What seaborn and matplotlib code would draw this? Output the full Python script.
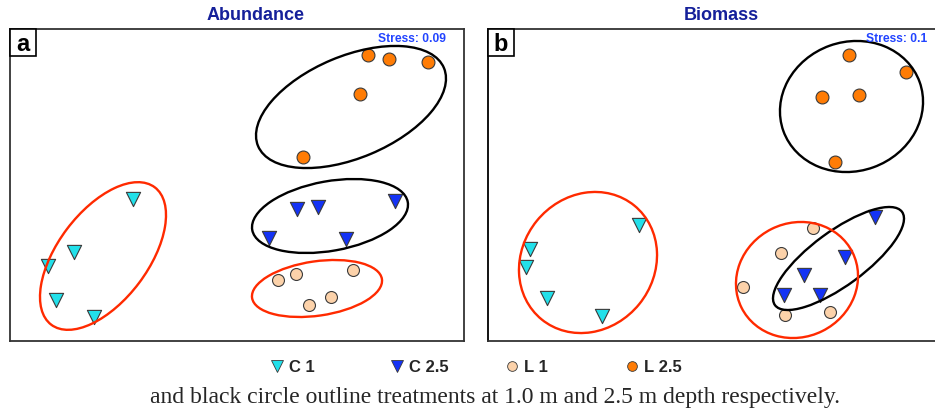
import numpy as np
import pandas as pd
import seaborn as sns
import matplotlib
matplotlib.use("Agg")
import matplotlib.pyplot as plt
from matplotlib.patches import Ellipse, Rectangle
from matplotlib.lines import Line2D

sns.set_style("white")
plt.rcParams['font.family'] = ['Liberation Sans', 'DejaVu Sans']

# ---------------- data (ordination coordinates, pixel units) ----
groups = ["C 1", "C 2.5", "L 1", "L 2.5"]

# Panel a: Abundance
abund_C1_x = [133, 74, 48, 56, 94]
abund_C1_y = [199, 252, 266, 300, 317]
abund_C25_x = [297, 318, 395, 269, 346]
abund_C25_y = [209, 207, 201, 238, 239]
abund_L1_x = [278, 296, 353, 331, 309]
abund_L1_y = [280, 274, 270, 297, 305]
abund_L25_x = [368, 389, 428, 360, 303]
abund_L25_y = [55, 59, 62, 94, 157]

# Panel b: Biomass
biom_C1_x = [639, 530, 526, 547, 602]
biom_C1_y = [225, 249, 267, 298, 316]
biom_C25_x = [875, 845, 804, 784, 820]
biom_C25_y = [217, 257, 275, 295, 295]
biom_L1_x = [813, 781, 743, 785, 830]
biom_L1_y = [228, 253, 287, 315, 312]
biom_L25_x = [849, 906, 822, 859, 835]
biom_L25_y = [55, 72, 97, 95, 162]

# group ellipses: centre x, centre y, semi-major, semi-minor, screen angle (deg)
abund_ell_group = ["C 1", "C 2.5", "L 1", "L 2.5"]
abund_ell_cx = [103, 330, 317, 351]
abund_ell_cy = [256, 216, 288.5, 107]
abund_ell_a = [86, 79, 65.6, 100.8]
abund_ell_b = [45, 34.8, 27.2, 50.9]
abund_ell_ang = [53, 10.2, 8.2, 22.8]

biom_ell_group = ["C 1", "C 2.5", "L 1", "L 2.5"]
biom_ell_cx = [588, 838.5, 797, 851.5]
biom_ell_cy = [262.5, 258.5, 280, 106.5]
biom_ell_a = [73.4, 78.8, 62, 72.4]
biom_ell_b = [66, 27.1, 57, 64.6]
biom_ell_ang = [50.9, 36.3, 26.5, 19.8]

titles = ["Abundance", "Biomass"]
panel_labels = ["a", "b"]
stress = ["Stress: 0.09", "Stress: 0.1"]
caption = "and black circle outline treatments at 1.0 m and 2.5 m depth respectively."

# ---------------- styles ----------------
colors = {"C 1": "#22e0ea", "C 2.5": "#1433f5", "L 1": "#fcd2aa", "L 2.5": "#ff7c05"}
markers = {"C 1": "v", "C 2.5": "v", "L 1": "o", "L 2.5": "o"}
sizes = {"C 1": 105, "C 2.5": 105, "L 1": 74, "L 2.5": 86}
ell_colors = {"C 1": "#ff2a00", "C 2.5": "black", "L 1": "#ff2a00", "L 2.5": "black"}
legend_pos = {"C 1": 277, "C 2.5": 397, "L 1": 512, "L 2.5": 632}

W, H = 935, 412
fig = plt.figure(figsize=(W / 100, H / 100), dpi=100)

def ax_at(x0, x1, y0, y1):
    return fig.add_axes([x0 / W, 1 - y1 / H, (x1 - x0) / W, (y1 - y0) / H])

panels = [
    dict(ext=(10, 464, 29, 341),
         pts={"C 1": (abund_C1_x, abund_C1_y), "C 2.5": (abund_C25_x, abund_C25_y),
              "L 1": (abund_L1_x, abund_L1_y), "L 2.5": (abund_L25_x, abund_L25_y)},
         ell=(abund_ell_group, abund_ell_cx, abund_ell_cy, abund_ell_a, abund_ell_b, abund_ell_ang),
         title_x=256, stress_x=446),
    dict(ext=(488, 942, 29, 341),
         pts={"C 1": (biom_C1_x, biom_C1_y), "C 2.5": (biom_C25_x, biom_C25_y),
              "L 1": (biom_L1_x, biom_L1_y), "L 2.5": (biom_L25_x, biom_L25_y)},
         ell=(biom_ell_group, biom_ell_cx, biom_ell_cy, biom_ell_a, biom_ell_b, biom_ell_ang),
         title_x=721, stress_x=927),
]

for i, p in enumerate(panels):
    x0, x1, y0, y1 = p["ext"]
    ax = ax_at(x0, x1, y0, y1)
    rows = []
    for g in groups:
        xs, ys = p["pts"][g]
        for x, y in zip(xs, ys):
            rows.append((g, x, y))
    df = pd.DataFrame(rows, columns=["group", "x", "y"])
    for g in groups:
        sub = df[df.group == g]
        sns.scatterplot(data=sub, x="x", y="y", ax=ax, color=colors[g], marker=markers[g],
                        s=sizes[g], edgecolor="#3a3a3a", linewidth=0.8, legend=False, zorder=3)
    eg, cx, cy, aa, bb, ang = p["ell"]
    for g, x, y, a, b, t in zip(eg, cx, cy, aa, bb, ang):
        ax.add_patch(Ellipse((x, y), 2 * a, 2 * b, angle=-t, fill=False,
                             edgecolor=ell_colors[g], lw=1.7, zorder=4))
    ax.set_xlim(x0, x1)
    ax.set_ylim(y1, y0)
    ax.set_xticks([]); ax.set_yticks([])
    ax.set_xlabel(""); ax.set_ylabel("")
    for s in ax.spines.values():
        s.set_color("#333333"); s.set_linewidth(1.3)
    if i == 1:
        ax.spines["left"].set_color("black")
    # panel label box
    ax.add_patch(Rectangle((x0, y0), 26, 27, fill=True, facecolor="white",
                           edgecolor="black", lw=1.2, zorder=5, clip_on=False))
    ax.text(x0 + 13, y0 + 15, panel_labels[i], ha="center", va="center",
            fontsize=17, fontweight="bold", color="black", zorder=6)
    ax.text(p["stress_x"], 39, stress[i], ha="right", va="center", fontsize=8.7,
            fontweight="bold", color="#2244ff", zorder=6)
    fig.text(p["title_x"] / W, 1 - 16 / H, titles[i], ha="center", va="center",
             fontsize=13, fontweight="bold", color="#15209a")

# legend: one entry per group, each anchored at its own position
for g in groups:
    h = Line2D([], [], linestyle="none", marker=markers[g], markerfacecolor=colors[g],
               markeredgecolor="#3a3a3a", markeredgewidth=0.6,
               markersize=8 if g.startswith("C") else 7, label=g)
    leg = fig.legend(handles=[h], loc="center left",
                     bbox_to_anchor=((legend_pos[g] - 10) / W, 1 - 367 / H),
                     frameon=False, handletextpad=0.1, borderpad=0, borderaxespad=0,
                     prop=dict(weight="bold", size=12), handlelength=1.2)

fig.text(495 / W, 1 - 398 / H, caption, ha="center", va="center", fontsize=17,
         family=["Liberation Serif", "DejaVu Serif"])

fig.savefig("out.png", dpi=100)
